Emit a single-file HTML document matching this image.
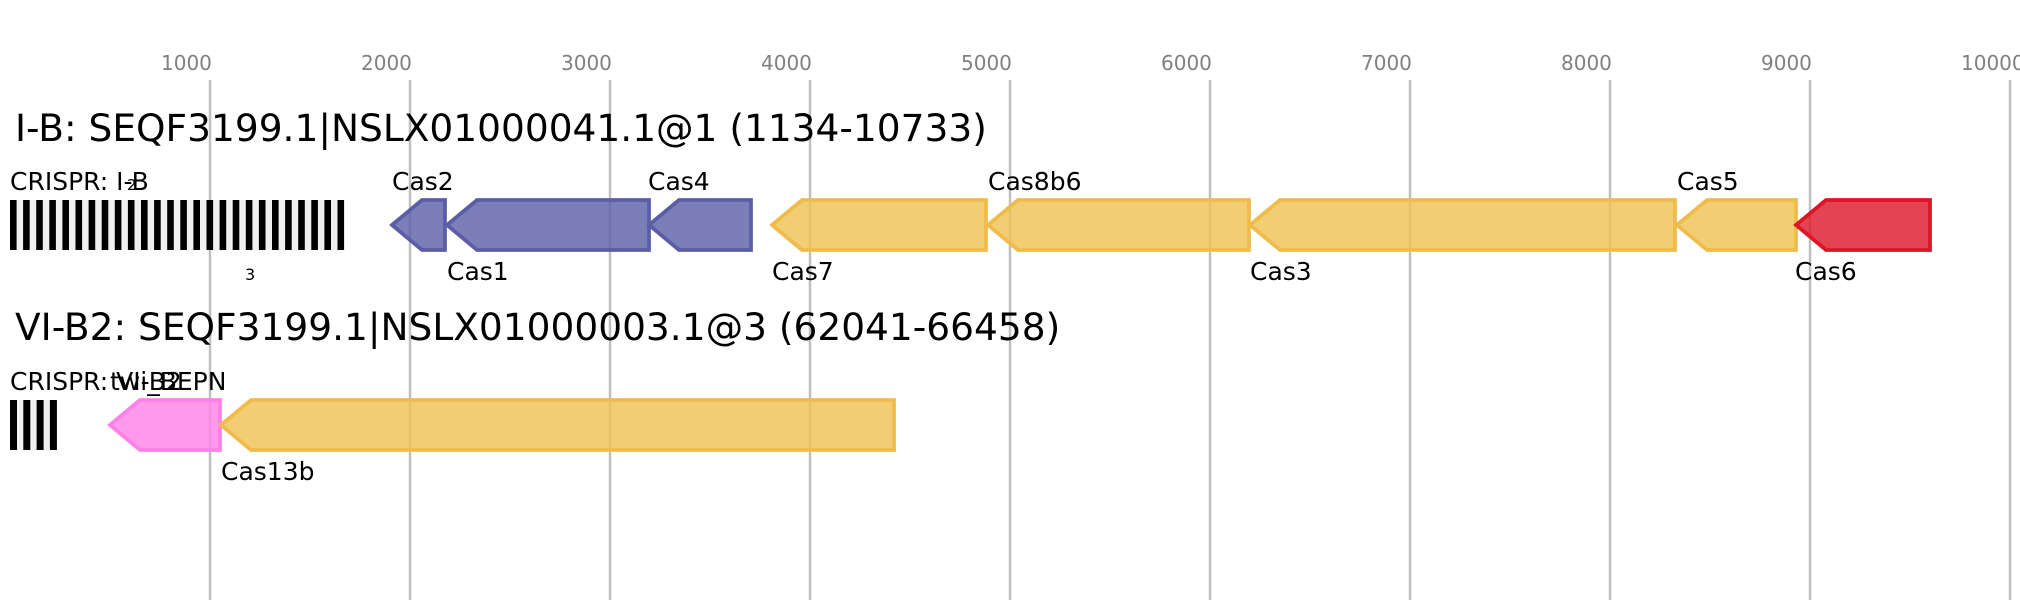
<!DOCTYPE html>
<html>
<head>
<meta charset="utf-8">
<style>
html,body{margin:0;padding:0;background:#fff;}
svg{display:block;}
text{font-family:"DejaVu Sans","Liberation Sans",sans-serif;}
</style>
</head>
<body>
<svg width="2020" height="600" viewBox="0 0 2020 600" xmlns="http://www.w3.org/2000/svg">
<rect x="0" y="0" width="2020" height="600" fill="#ffffff"/>
<!-- grid -->
<g stroke="#c0c0c0" stroke-width="2.5">
<line x1="210" y1="80" x2="210" y2="600"/>
<line x1="410" y1="80" x2="410" y2="600"/>
<line x1="610" y1="80" x2="610" y2="600"/>
<line x1="810" y1="80" x2="810" y2="600"/>
<line x1="1010" y1="80" x2="1010" y2="600"/>
<line x1="1210" y1="80" x2="1210" y2="600"/>
<line x1="1410" y1="80" x2="1410" y2="600"/>
<line x1="1610" y1="80" x2="1610" y2="600"/>
<line x1="1810" y1="80" x2="1810" y2="600"/>
<line x1="2010" y1="80" x2="2010" y2="600"/>
</g>
<g fill="#808080" font-size="20">
<text x="161" y="70">1000</text>
<text x="361" y="70">2000</text>
<text x="561" y="70">3000</text>
<text x="761" y="70">4000</text>
<text x="961" y="70">5000</text>
<text x="1161" y="70">6000</text>
<text x="1361" y="70">7000</text>
<text x="1561" y="70">8000</text>
<text x="1761" y="70">9000</text>
<text x="1961" y="70">10000</text>
</g>

<!-- Row 1 -->
<text x="15" y="141" font-size="37.5" fill="#000">I-B: SEQF3199.1|NSLX01000041.1@1 (1134-10733)</text>

<rect x="10" y="200" width="334" height="50" fill="#f0f0f0"/>
<g fill="#000">
<rect x="10.0" y="200" width="6.6" height="50"/>
<rect x="23.1" y="200" width="6.6" height="50"/>
<rect x="36.2" y="200" width="6.6" height="50"/>
<rect x="49.3" y="200" width="6.6" height="50"/>
<rect x="62.4" y="200" width="6.6" height="50"/>
<rect x="75.5" y="200" width="6.6" height="50"/>
<rect x="88.6" y="200" width="6.6" height="50"/>
<rect x="101.7" y="200" width="6.6" height="50"/>
<rect x="114.8" y="200" width="6.6" height="50"/>
<rect x="127.9" y="200" width="6.6" height="50"/>
<rect x="141.0" y="200" width="6.6" height="50"/>
<rect x="154.1" y="200" width="6.6" height="50"/>
<rect x="167.2" y="200" width="6.6" height="50"/>
<rect x="180.3" y="200" width="6.6" height="50"/>
<rect x="193.4" y="200" width="6.6" height="50"/>
<rect x="206.5" y="200" width="6.6" height="50"/>
<rect x="219.6" y="200" width="6.6" height="50"/>
<rect x="232.7" y="200" width="6.6" height="50"/>
<rect x="245.8" y="200" width="6.6" height="50"/>
<rect x="258.9" y="200" width="6.6" height="50"/>
<rect x="272.0" y="200" width="6.6" height="50"/>
<rect x="285.1" y="200" width="6.6" height="50"/>
<rect x="298.2" y="200" width="6.6" height="50"/>
<rect x="311.3" y="200" width="6.6" height="50"/>
<rect x="324.4" y="200" width="6.6" height="50"/>
<rect x="337.5" y="200" width="6.6" height="50"/>
</g>

<g stroke-width="3.75" stroke-linejoin="miter">
<polygon points="392,225 422,200 445,200 445,250 422,250" fill="#5B5EA6" fill-opacity="0.8" stroke="#5B5EA6"/>
<polygon points="447,225 477,200 649,200 649,250 477,250" fill="#5B5EA6" fill-opacity="0.8" stroke="#5B5EA6"/>
<polygon points="649,225 679,200 751,200 751,250 679,250" fill="#5B5EA6" fill-opacity="0.8" stroke="#5B5EA6"/>
<polygon points="772,225 802,200 986,200 986,250 802,250" fill="#EFC050" fill-opacity="0.8" stroke="#EFBC4B"/>
<polygon points="988,225 1018,200 1249,200 1249,250 1018,250" fill="#EFC050" fill-opacity="0.8" stroke="#EFBC4B"/>
<polygon points="1250,225 1280,200 1675,200 1675,250 1280,250" fill="#EFC050" fill-opacity="0.8" stroke="#EFBC4B"/>
<polygon points="1677,225 1707,200 1796,200 1796,250 1707,250" fill="#EFC050" fill-opacity="0.8" stroke="#EFBC4B"/>
<polygon points="1796,225 1826,200 1930,200 1930,250 1826,250" fill="#DD1526" fill-opacity="0.8" stroke="#DD1526"/>
</g>

<g font-size="25" fill="#000">
<text x="10" y="190">CRISPR: I-B</text>
<text x="392" y="190">Cas2</text>
<text x="648" y="190">Cas4</text>
<text x="988" y="190">Cas8b6</text>
<text x="1677" y="190">Cas5</text>
<text x="447" y="280">Cas1</text>
<text x="772" y="280">Cas7</text>
<text x="1250" y="280">Cas3</text>
<text x="1795" y="280">Cas6</text>
</g>
<text x="127" y="190" font-size="15" fill="#000">2</text>
<text x="245" y="280" font-size="16" fill="#000">3</text>

<!-- Row 2 -->
<text x="15" y="340" font-size="37.5" fill="#000">VI-B2: SEQF3199.1|NSLX01000003.1@3 (62041-66458)</text>

<rect x="10" y="400" width="47" height="50" fill="#f0f0f0"/>
<g fill="#000">
<rect x="10" y="400" width="7" height="50"/>
<rect x="23.3" y="400" width="7" height="50"/>
<rect x="36.6" y="400" width="7" height="50"/>
<rect x="49.9" y="400" width="7" height="50"/>
</g>

<g stroke-width="3.75" stroke-linejoin="miter">
<polygon points="110,425 140,400 220,400 220,450 140,450" fill="#FF80E6" fill-opacity="0.8" stroke="#FF80E6"/>
<polygon points="221,425 251,400 894,400 894,450 251,450" fill="#EFC050" fill-opacity="0.8" stroke="#EFBC4B"/>
</g>

<g font-size="25" fill="#000">
<text x="10" y="390">CRISPR: VI-B2</text>
<text x="110" y="390">twi_BEPN</text>
<text x="221" y="480">Cas13b</text>
</g>
</svg>
</body>
</html>
